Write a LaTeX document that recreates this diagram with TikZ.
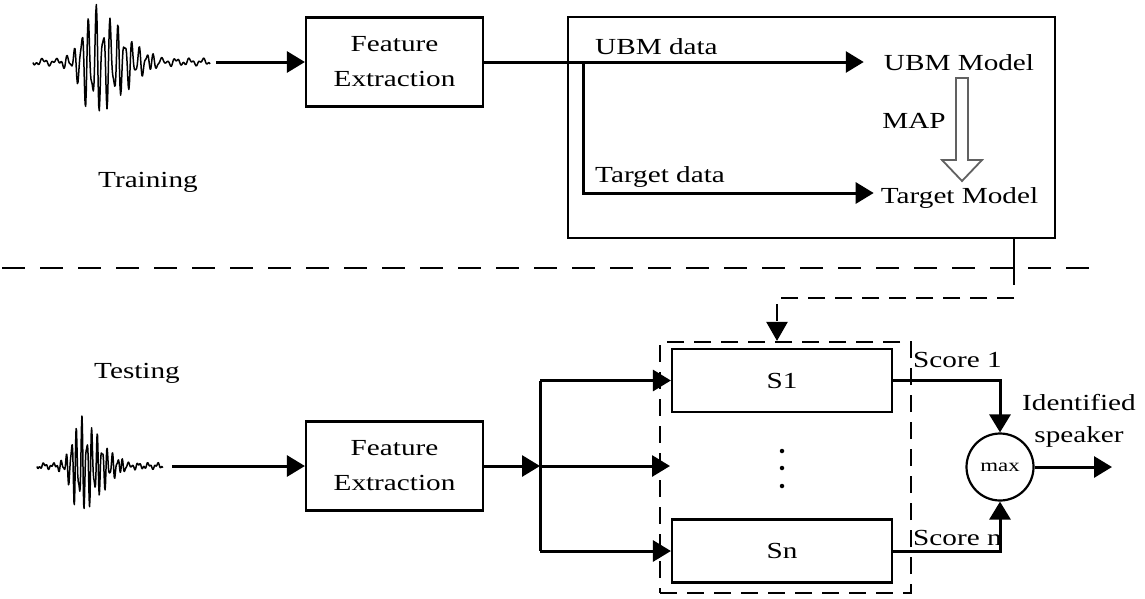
\documentclass[tikz,border=0pt]{standalone}
\usepackage{fontspec}
\setmainfont{Liberation Serif}
\usepackage{graphicx}
\usetikzlibrary{arrows.meta,calc}
\newcommand\sx[1]{\scalebox{1.27}[1]{#1}}
\newcommand\wavepath{plot[domain=0:177,samples=300] (\x,{(56*exp(-((\x-60)/((\x<60)*17+(\x>=60)*42))^2))*(0.72*sin(50*\x)+0.3*sin(83*\x+40)) + 2.4*sin(27*\x) + 1.6*sin(71*\x+20)})}
\begin{document}
\begin{tikzpicture}[x=1pt,y=-1pt,
  txt/.style={font=\fontsize{23}{35}\selectfont, inner sep=0pt},
  blk/.style={draw, line width=2.2pt, minimum width=177pt, minimum height=89pt, inner sep=0pt, align=center, font=\fontsize{23}{35}\selectfont},
  sbox/.style={draw, line width=2.2pt, minimum width=220pt, minimum height=63pt, inner sep=0pt, font=\fontsize{23}{35}\selectfont},
  conn/.style={line width=3pt, -{Triangle[length=18pt,width=21pt]}},
  plain/.style={line width=3pt},
  dsh/.style={line width=2.4pt, dash pattern=on 17pt off 10pt},
  wave/.style={line width=1.5pt, line join=round},
]
\useasboundingbox (0,0) rectangle (1145,598);

% waveforms
\begin{scope}[shift={(33,62)}]
  \draw[wave] \wavepath;
\end{scope}
\begin{scope}[shift={(37,466)}, xscale=0.71, yscale=0.87]
  \draw[wave] \wavepath;
\end{scope}

% training part
\node[blk] (fe1) at (394.5,62) {\sx{Feature}\\\sx{Extraction}};
\node[txt, anchor=base] (train) at (148,187) {\sx{Training}};
\node[draw, line width=2.2pt, minimum width=487pt, minimum height=221pt, inner sep=0pt] (tbox) at (811.5,127.5) {};
\node[txt, anchor=base, inner xsep=20pt] (ubm) at (959,70) {\sx{UBM Model}};
\node[txt, anchor=base, inner xsep=7pt] (tgt) at (959.5,203) {\sx{Target Model}};
\node[txt, anchor=base west] (ubmd) at (595,54) {\sx{UBM data}};
\node[txt, anchor=base west] (tgtd) at (595,182) {\sx{Target data}};
\node[txt, anchor=base] (map) at (914,128) {\sx{MAP}};

\coordinate (w1) at (216,62);
\coordinate (br) at (583,62);
\draw[conn] (w1) -- (fe1.west);
\draw[conn] (fe1.east) -- (ubm.west |- fe1.east);
\draw[conn] (br) -- (br |- 0,193) -- (tgt.west |- 0,193);

% MAP hollow arrow
\draw[line width=1.8pt, draw=black!62, fill=white, line join=miter]
  (956,78) -- (968,78) -- (968,160) -- (982,160) -- (962,181) -- (942,160) -- (956,160) -- cycle;

% divider
\coordinate (d1) at (2,268);
\coordinate (d2) at (1100,268);
\draw[line width=2.4pt, dash pattern=on 23pt off 15pt] (d1) -- (d2);

% testing part
\node[txt, anchor=base] (test) at (137,378) {\sx{Testing}};
\node[blk] (fe2) at (394.5,466) {\sx{Feature}\\\sx{Extraction}};
\coordinate (w2) at (172,466);
\draw[conn] (w2) -- (fe2.west);

\node[draw, dsh, line width=2.2pt, minimum width=251pt, minimum height=251pt, inner sep=0pt] (grp) at (785.5,467.5) {};
\node[sbox] (s1) at (782,380.5) {\sx{S1}};
\node[sbox] (sn) at (782,551) {\sx{Sn}};
\node[circle, fill, inner sep=0pt, minimum size=4.5pt] (dot1) at (782,451) {};
\node[circle, fill, inner sep=0pt, minimum size=4.5pt] (dot2) at (782,468) {};
\node[circle, fill, inner sep=0pt, minimum size=4.5pt] (dot3) at (782,486) {};

\coordinate (j) at (540,466);
\coordinate (mid) at (670,466);
\draw[conn] (fe2.east) -- (j);
\draw[plain] (j |- s1.west) -- (j |- sn.west);
\draw[conn] (j |- s1.west) -- (s1.west);
\draw[conn] (j) -- (mid);
\draw[conn] (j |- sn.west) -- (sn.west);

% dashed link from training box
\coordinate (c1) at (1014,285);
\coordinate (c2) at (1014,298);
\coordinate (c3) at (777,298);
\draw[line width=2.4pt] (tbox.south -| c1) -- (c1);
\draw[dsh, -{Triangle[length=19pt,width=21pt]}] (c2) -- (c3) -- (grp.north -| c3);

% max and output
\node[draw, circle, line width=2.2pt, minimum size=67pt, inner sep=0pt, font=\fontsize{18}{20}\selectfont] (mx) at (1000,467) {\sx{max}};
\draw[conn] (s1.east) -| (mx.north);
\draw[conn] (sn.east) -| (mx.south);
\coordinate (out) at (1112,467);
\draw[conn] (mx.east) -- (out);
\node[txt, anchor=base west] (sc1) at (913,367) {\sx{Score 1}};
\node[txt, anchor=base west] (scn) at (913,545) {\sx{Score n}};
\node[txt, align=center, font=\fontsize{23}{32}\selectfont] (id) at (1079,421) {\sx{Identified}\\\sx{speaker}};
\end{tikzpicture}
\end{document}
